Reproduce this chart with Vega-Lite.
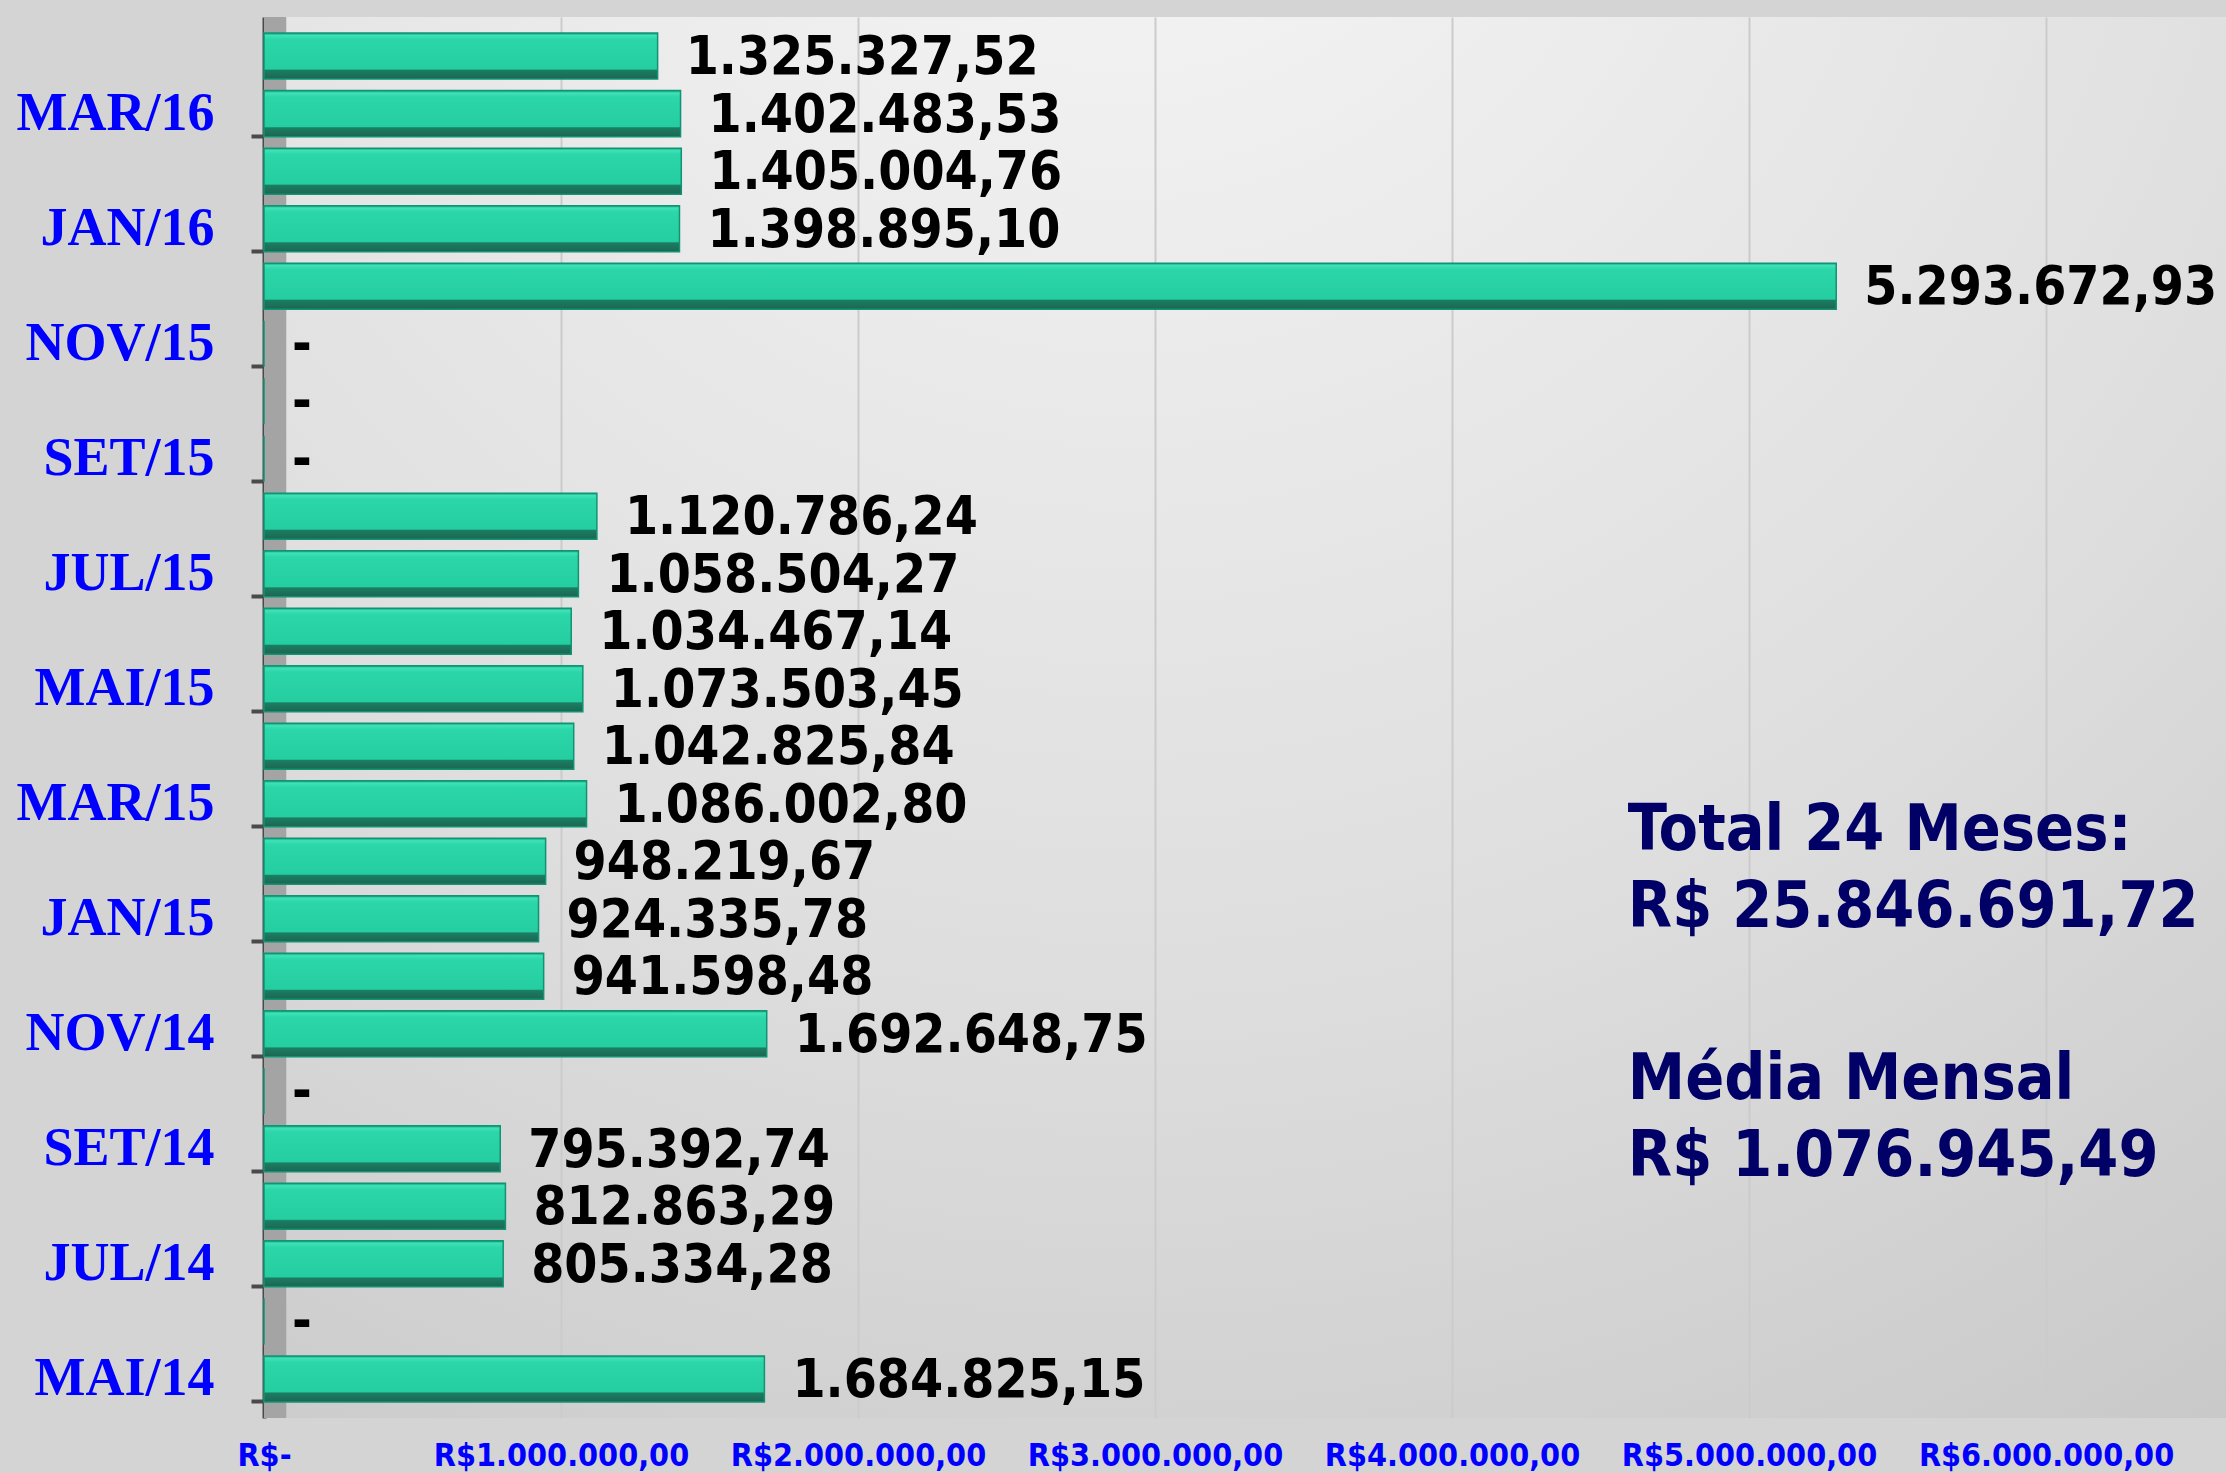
{
  "$schema": "https://vega.github.io/schema/vega-lite/v6.json",
  "width": 1962,
  "height": 1401,
  "autosize": {"type": "none"},
  "padding": {"left": 264, "top": 17, "right": 0, "bottom": 55},
  "background": "#d4d4d4",
  "config": {
    "locale": {"number": {"decimal": ",", "thousands": ".", "grouping": [3], "currency": ["R$", ""]}},
    "view": {
      "stroke": null,
      "fill": {"gradient": "radial", "x1": 0.44, "y1": 0, "r1": 0, "x2": 0.44, "y2": 0, "r2": 1.15,
        "stops": [{"offset": 0, "color": "#f7f7f7"}, {"offset": 0.55, "color": "#dedede"}, {"offset": 1, "color": "#c2c2c2"}]}
    }
  },
  "data": {"values": [
    {"mes": "ABR/16", "valor": 1325327.52},
    {"mes": "MAR/16", "valor": 1402483.53},
    {"mes": "FEV/16", "valor": 1405004.76},
    {"mes": "JAN/16", "valor": 1398895.10},
    {"mes": "DEZ/15", "valor": 5293672.93},
    {"mes": "NOV/15", "valor": 0},
    {"mes": "OUT/15", "valor": 0},
    {"mes": "SET/15", "valor": 0},
    {"mes": "AGO/15", "valor": 1120786.24},
    {"mes": "JUL/15", "valor": 1058504.27},
    {"mes": "JUN/15", "valor": 1034467.14},
    {"mes": "MAI/15", "valor": 1073503.45},
    {"mes": "ABR/15", "valor": 1042825.84},
    {"mes": "MAR/15", "valor": 1086002.80},
    {"mes": "FEV/15", "valor": 948219.67},
    {"mes": "JAN/15", "valor": 924335.78},
    {"mes": "DEZ/14", "valor": 941598.48},
    {"mes": "NOV/14", "valor": 1692648.75},
    {"mes": "OUT/14", "valor": 0},
    {"mes": "SET/14", "valor": 795392.74},
    {"mes": "AGO/14", "valor": 812863.29},
    {"mes": "JUL/14", "valor": 805334.28},
    {"mes": "JUN/14", "valor": 0},
    {"mes": "MAI/14", "valor": 1684825.15}
  ]},
  "layer": [
    {
      "data": {"values": [{}]},
      "mark": {"type": "rect", "fill": "#a4a4a4"},
      "encoding": {
        "x": {"datum": 0, "type": "quantitative", "scale": {"domain": [0, 6606000], "nice": false}},
        "x2": {"datum": 75000}
      }
    },
    {
      "mark": {
        "type": "bar",
        "stroke": "#119474",
        "strokeWidth": 1.5,
        "fill": {"gradient": "linear", "x1": 0, "y1": 0, "x2": 0, "y2": 1,
          "stops": [
            {"offset": 0, "color": "#129c78"},
            {"offset": 0.05, "color": "#3ee2b6"},
            {"offset": 0.14, "color": "#2bd6a8"},
            {"offset": 0.78, "color": "#25cea0"},
            {"offset": 0.81, "color": "#1a7d62"},
            {"offset": 1, "color": "#1c6652"}
          ]}
      },
      "encoding": {
        "y": {
          "field": "mes", "type": "nominal", "sort": null,
          "scale": {"paddingInner": 0.2, "paddingOuter": 0.28},
          "axis": {
            "title": null,
            "values": ["MAR/16", "JAN/16", "NOV/15", "SET/15", "JUL/15", "MAI/15", "MAR/15", "JAN/15", "NOV/14", "SET/14", "JUL/14", "MAI/14"],
            "bandPosition": 1,
            "labelOffset": 0,
            "labelLimit": 0,
            "labelFont": "Liberation Serif",
            "labelFontWeight": "bold",
            "labelFontSize": 54,
            "labelColor": "#0000ff",
            "labelPadding": 37,
            "domainColor": "#4a4a4a",
            "domainWidth": 4,
            "tickColor": "#4a4a4a",
            "tickWidth": 4,
            "tickSize": 13,
            "grid": false
          }
        },
        "x": {
          "field": "valor", "type": "quantitative",
          "scale": {"domain": [0, 6606000], "nice": false},
          "axis": {
            "title": null,
            "values": [0, 1000000, 2000000, 3000000, 4000000, 5000000, 6000000],
            "labelExpr": "datum.value == 0 ? 'R$-' : 'R$' + format(datum.value, ',.2f')",
            "labelFont": "DejaVu Sans Condensed",
            "labelFontWeight": "bold",
            "labelFontSize": 32,
            "labelColor": "#0000ff",
            "labelPadding": 22,
            "labelLimit": 0,
            "labelFlush": false,
            "labelOverlap": false,
            "domain": false,
            "ticks": false,
            "grid": true,
            "gridColor": "#cbcbcb",
            "gridWidth": 2
          }
        }
      }
    },
    {
      "mark": {"type": "text", "align": "left", "baseline": "middle", "dx": 28, "dy": 2,
        "font": "DejaVu Sans Condensed", "fontWeight": "bold", "fontSize": 53, "color": "#000000"},
      "encoding": {
        "y": {"field": "mes", "type": "nominal", "sort": null},
        "x": {"field": "valor", "type": "quantitative"},
        "text": {"condition": {"test": "datum.valor == 0", "value": "-"}, "field": "valor", "type": "quantitative", "format": ",.2f"}
      }
    },
    {
      "data": {"values": [{"linhas": ["Total 24 Meses:", "R$ 25.846.691,72"], "mes": "MAR/15", "valor": 4592000}]},
      "mark": {"type": "text", "align": "left", "baseline": "alphabetic", "dy": 46, "lineHeight": 77,
        "font": "DejaVu Sans Condensed", "fontWeight": "bold", "fontSize": 64, "color": "#000066"},
      "encoding": {
        "y": {"field": "mes", "type": "nominal", "sort": null},
        "x": {"field": "valor", "type": "quantitative"},
        "text": {"field": "linhas"}
      }
    },
    {
      "data": {"values": [{"linhas": ["Média Mensal", "R$ 1.076.945,49"], "mes": "OUT/14", "valor": 4592000}]},
      "mark": {"type": "text", "align": "left", "baseline": "alphabetic", "dy": 8, "lineHeight": 77,
        "font": "DejaVu Sans Condensed", "fontWeight": "bold", "fontSize": 64, "color": "#000066"},
      "encoding": {
        "y": {"field": "mes", "type": "nominal", "sort": null},
        "x": {"field": "valor", "type": "quantitative"},
        "text": {"field": "linhas"}
      }
    }
  ]
}
